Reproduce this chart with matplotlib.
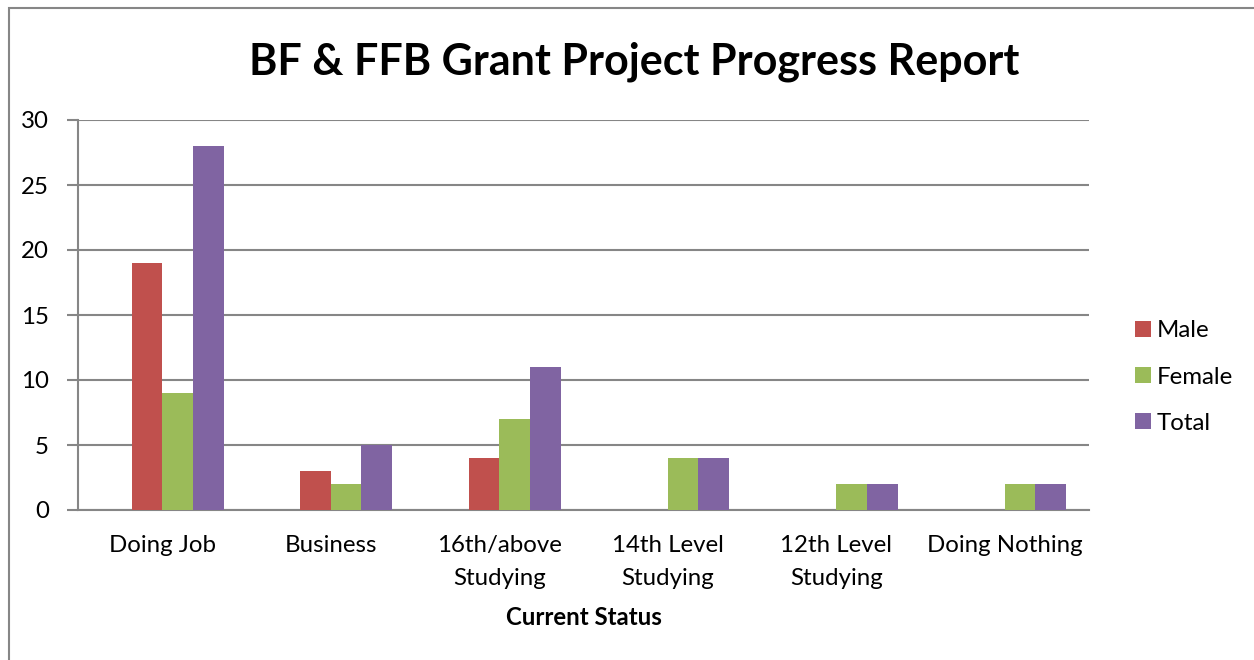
import matplotlib
matplotlib.use("Agg")
import matplotlib.pyplot as plt
import numpy as np
from matplotlib.patches import Rectangle

categories = ["Doing Job", "Business", "16th/above\nStudying", "14th Level\nStudying",
              "12th Level\nStudying", "Doing Nothing"]
male = [19, 3, 4, 0, 0, 0]
female = [9, 2, 7, 4, 2, 2]
total = [28, 5, 11, 4, 2, 2]
series_names = ["Male", "Female", "Total"]
colors = ["#C0504D", "#9BBB59", "#8064A2"]
y_ticks = [0, 5, 10, 15, 20, 25, 30]

plt.rcParams['font.family'] = ['Lato', 'DejaVu Sans']

W, H = 1254, 660
fig = plt.figure(figsize=(W / 100, H / 100), dpi=100)
ax = fig.add_axes([78 / W, 1 - 510 / H, (1089 - 78) / W, (510 - 120) / H])

x = np.arange(len(categories))
w = 1 / 5.5
offsets = [-0.5 * w, 0.5 * w, 1.5 * w]
for vals, name, c, off in zip([male, female, total], series_names, colors, offsets):
    ax.bar(x + off, vals, width=w, color=c, label=name, zorder=3)

ax.set_xlim(-0.5, len(categories) - 0.5)
ax.set_ylim(0, 30)
ax.set_yticks(y_ticks)
ax.set_xticks(x)
ax.set_xticklabels(categories, fontsize=17.3, linespacing=1.72)
ax.tick_params(axis='x', length=0, pad=18)
ax.tick_params(axis='y', length=8, color='#868686', width=1.5, pad=13, labelsize=17.3)
ax.yaxis.grid(True, color='#868686', linewidth=1.5, zorder=0)
for s in ['top', 'right']:
    ax.spines[s].set_visible(False)
for s in ['left', 'bottom']:
    ax.spines[s].set_color('#868686')
    ax.spines[s].set_linewidth(1.5)
ax.set_xlabel("Current Status", fontsize=17.3, fontweight='bold', labelpad=12)

fig.text(634 / W, 1 - 62 / H, "BF & FFB Grant Project Progress Report",
         fontsize=31, fontweight='bold', ha='center', va='center')

leg = ax.legend(loc='center left', bbox_to_anchor=(1.036, 0.341), frameon=False,
                fontsize=17.3, handlelength=0.65, handleheight=0.65, labelspacing=1.05,
                handletextpad=0.25, borderaxespad=0)

fig.patches.append(Rectangle((9 / W, -0.5), 1.1, 1.5 - 8 / H, transform=fig.transFigure,
                             fill=False, edgecolor='#868686', linewidth=1.5))

fig.savefig("out.png", dpi=100)
